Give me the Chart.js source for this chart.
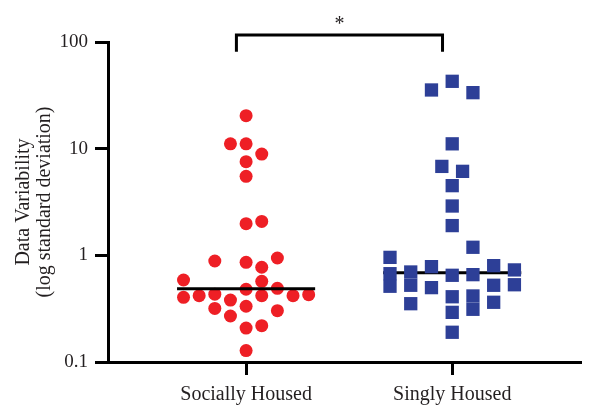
<!DOCTYPE html>
<html>
<head>
<meta charset="utf-8">
<title>Data Variability by Housing</title>
<script src="https://cdn.jsdelivr.net/npm/chart.js@4/dist/chart.umd.min.js"></script>
<style>
  html, body { margin: 0; padding: 0; background: #ffffff; }
  #wrap { width: 591px; height: 405px; }
</style>
</head>
<body>
<div id="wrap"><canvas id="chart" width="591" height="405"></canvas></div>
<script>
// Groups on the horizontal axis
const categories = ['Socially Housed', 'Singly Housed'];

// Per-animal standard deviation, socially housed group
const sociallyHoused = [
  20.4, 11.1, 11.1, 8.9, 7.55, 5.5, 1.98, 2.08, 0.885, 0.86,
  0.944, 0.773, 0.587, 0.570, 0.481, 0.491, 0.404, 0.419, 0.432, 0.419,
  0.419, 0.428, 0.381, 0.318, 0.333, 0.303, 0.270, 0.208, 0.219, 0.128
];
// Swarm lane of each socially housed point (0 = centre)
const sociallyLanes = [
  0, -1, 0, 1, 0, 0, 0, 1, -2, 0,
  2, 1, -4, 1, 0, 2, -4, -3, -2, 1,
  3, 4, -1, -2, 0, 2, -1, 0, 1, 0
];

// Per-animal standard deviation, singly housed group
const singlyHoused = [
  42.8, 35.5, 33.5, 11.1, 6.82, 6.13, 4.50, 2.90, 1.90, 1.19,
  0.957, 0.673, 0.513, 0.698, 0.524, 0.352, 0.783, 0.498, 0.650, 0.409,
  0.292, 0.190, 0.659, 0.416, 0.312, 0.800, 0.524, 0.363, 0.730, 0.530
];
// Swarm lane of each singly housed point (0 = centre)
const singlyLanes = [
  0, -2, 2, 0, -1, 1, 0, 0, 0, 2,
  -6, -6, -6, -4, -4, -4, -2, -2, 0, 0,
  0, 0, 2, 2, 2, 4, 4, 4, 6, 6
];

// Log axis tick values and labels
const yTickValues = [0.1, 1, 10, 100];
const yTickLabels = ['0.1', '1', '10', '100'];

// Significance marker between the two groups
const significanceLabel = '*';

// ---- drawing helpers ----
const TEXT = '#231f20';
const FONT = 'Liberation Serif, Times New Roman, serif';
const RED = '#ee1f25';
const BLUE = '#2d3f97';
const LANE_RED = 0.0759;
const LANE_BLUE = 0.0503;
const MEDIAN_HALF = 0.335;

function median(arr) {
  const s = arr.slice().sort((a, b) => a - b);
  const m = Math.floor(s.length / 2);
  return s.length % 2 ? s[m] : (s[m - 1] + s[m]) / 2;
}

function swarm(values, lanes, centre, laneWidth) {
  return values.map((v, i) => ({ x: centre + lanes[i] * laneWidth, y: v }));
}

function medianSegment(values, centre) {
  const m = median(values);
  return [{ x: centre - MEDIAN_HALF, y: m }, { x: centre + MEDIAN_HALF, y: m }];
}

// Bracket with a star above the two groups
const significancePlugin = {
  id: 'significance',
  afterDraw(chart) {
    const { ctx, scales: { x, y } } = chart;
    const x1 = x.getPixelForValue(0.953);
    const x2 = x.getPixelForValue(1.953);
    const yTop = y.getPixelForValue(116);
    const yLeg = y.getPixelForValue(81);
    ctx.save();
    ctx.strokeStyle = '#000000';
    ctx.lineWidth = 3;
    ctx.lineCap = 'butt';
    ctx.lineJoin = 'miter';
    ctx.beginPath();
    ctx.moveTo(x1, yLeg);
    ctx.lineTo(x1, yTop);
    ctx.lineTo(x2, yTop);
    ctx.lineTo(x2, yLeg);
    ctx.stroke();
    ctx.fillStyle = TEXT;
    ctx.font = '20px ' + FONT;
    ctx.textAlign = 'center';
    ctx.textBaseline = 'alphabetic';
    ctx.fillText(significanceLabel, (x1 + x2) / 2, yTop - 5);
    ctx.restore();
  }
};

const chart = new Chart(document.getElementById('chart'), {
  type: 'scatter',
  data: {
    datasets: [
      {
        type: 'line',
        data: medianSegment(sociallyHoused, 1),
        borderColor: '#000000',
        borderWidth: 3,
        pointRadius: 0,
        fill: false
      },
      {
        data: swarm(sociallyHoused, sociallyLanes, 1, LANE_RED),
        pointStyle: 'circle',
        pointRadius: 6.5,
        backgroundColor: RED,
        borderWidth: 0
      },
      {
        data: swarm(singlyHoused, singlyLanes, 2, LANE_BLUE),
        pointStyle: 'rect',
        pointRadius: 9.4,
        backgroundColor: BLUE,
        borderWidth: 0
      },
      {
        type: 'line',
        data: medianSegment(singlyHoused, 2),
        borderColor: '#000000',
        borderWidth: 3,
        pointRadius: 0,
        fill: false
      }
    ]
  },
  options: {
    responsive: false,
    animation: false,
    devicePixelRatio: 1,
    layout: { padding: { top: 42, right: 11, left: 0, bottom: 0 } },
    plugins: {
      legend: { display: false },
      tooltip: { enabled: false }
    },
    scales: {
      x: {
        type: 'linear',
        min: 0.33,
        max: 2.62,
        afterBuildTicks(scale) {
          scale.ticks = categories.map((c, i) => ({ value: i + 1 }));
        },
        afterFit(scale) { scale.height = 43; },
        ticks: {
          color: TEXT,
          padding: 8,
          maxRotation: 0,
          font: { family: FONT, size: 20 },
          callback: (v) => categories[Math.round(v) - 1] || ''
        },
        grid: {
          display: true,
          drawOnChartArea: false,
          drawTicks: true,
          tickLength: 13,
          lineWidth: 3,
          color: '#000000'
        },
        border: { display: true, width: 3, color: '#000000' }
      },
      y: {
        type: 'logarithmic',
        min: 0.1,
        max: 100,
        afterBuildTicks(scale) {
          scale.ticks = yTickValues.map(v => ({ value: v }));
        },
        afterFit(scale) { scale.width = 108; },
        ticks: {
          color: TEXT,
          padding: 7,
          font: { family: FONT, size: 19 },
          callback: (v) => {
            const i = yTickValues.findIndex(t => Math.abs(t - v) < 1e-9);
            return i >= 0 ? yTickLabels[i] : '';
          }
        },
        grid: {
          display: true,
          drawOnChartArea: false,
          drawTicks: true,
          tickLength: 13,
          lineWidth: 3,
          color: '#000000'
        },
        border: { display: true, width: 3, color: '#000000' },
        title: {
          display: true,
          text: ['Data Variability', '(log standard deviation)'],
          color: TEXT,
          padding: { top: 13, bottom: 0 },
          font: { family: FONT, size: 20, lineHeight: 1.05 }
        }
      }
    }
  },
  plugins: [significancePlugin]
});
</script>
</body>
</html>
